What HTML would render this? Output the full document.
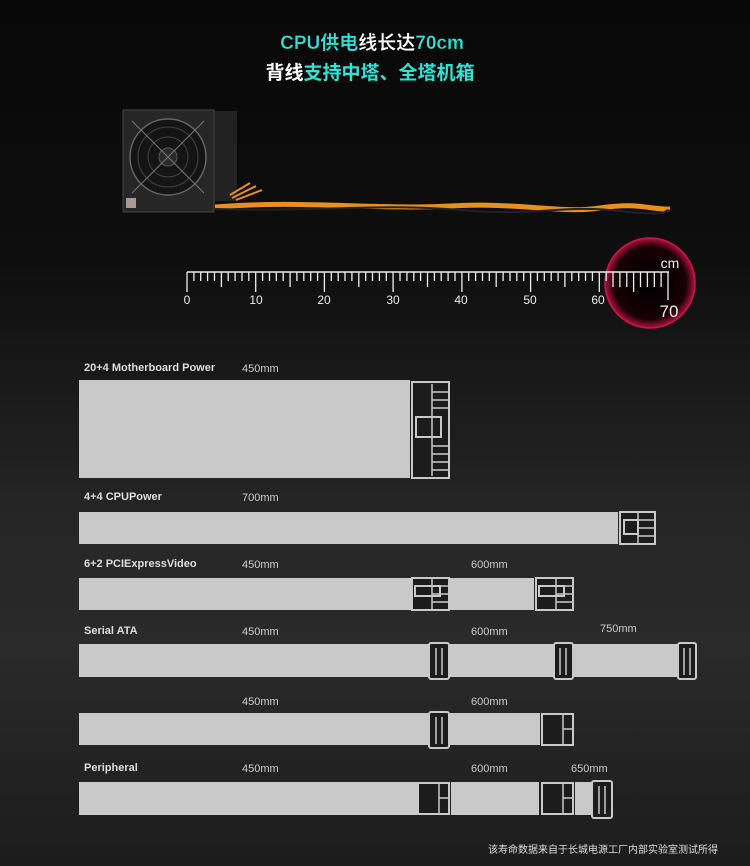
<!DOCTYPE html>
<html><head><meta charset="utf-8"><style>
html,body{margin:0;padding:0;background:#151515;}
#w{width:750px;height:866px;position:relative;overflow:hidden;background:linear-gradient(180deg,#080808 0%,#0e0e0e 30%,#262626 60%,#2a2a2a 75%,#1c1c1c 100%);}
svg{position:absolute;left:0;top:0;}
text{font-family:"Liberation Sans","Noto Sans CJK SC",sans-serif;}
</style></head><body><div id="w">
<svg width="750" height="866" viewBox="0 0 750 866">
<defs>
<radialGradient id="rg" cx="50%" cy="50%" r="50%"><stop offset="0" stop-color="#000"/><stop offset="0.8" stop-color="#160006"/><stop offset="1" stop-color="#b0103a"/></radialGradient>
</defs>
<text x="372" y="49" text-anchor="middle" font-size="19" font-weight="bold" fill="#fff" stroke="currentColor" stroke-width="0.3"><tspan fill="#2fe3d8">CPU供电</tspan>线长达<tspan fill="#2fe3d8">70cm</tspan></text>
<text x="370" y="79" text-anchor="middle" font-size="19" font-weight="bold" fill="#fff">背线<tspan fill="#2fe3d8">支持中塔、全塔机箱</tspan></text>
<rect x="213" y="111" width="24" height="90" fill="#222"/>
<rect x="123" y="110" width="91" height="102" fill="#262626" stroke="#444" stroke-width="1"/>
<circle cx="168" cy="157" r="38" fill="#141414" stroke="#666" stroke-width="1.5"/>
<circle cx="168" cy="157" r="30" fill="none" stroke="#444" stroke-width="1"/>
<circle cx="168" cy="157" r="20" fill="none" stroke="#444" stroke-width="1"/>
<circle cx="168" cy="157" r="9" fill="#2a2a2a" stroke="#555"/>
<line x1="132" y1="121" x2="204" y2="193" stroke="#777" stroke-width="1"/>
<line x1="204" y1="121" x2="132" y2="193" stroke="#777" stroke-width="1"/>
<rect x="126" y="198" width="10" height="10" fill="#a99"/>
<path d="M215 207 C300 200,380 210,450 206 S560 214,600 208 S650 210,670 209" stroke="#e8901a" stroke-width="5" fill="none"/>
<path d="M215 209 C320 212,380 203,460 210 S560 204,620 211 S660 208,670 211" stroke="#222" stroke-width="2" fill="none"/>
<path d="M230 195 L250 183 M232 198 L256 186 M236 200 L262 190" stroke="#e8901a" stroke-width="2"/>
<circle cx="650" cy="283" r="45" fill="url(#rg)" stroke="#c8164a" stroke-width="1.5"/>
<g id="ruler" stroke="#eee" stroke-width="1.3"></g>
<line x1="187" y1="272" x2="669" y2="272" stroke="#eee" stroke-width="1.5"/>
<g font-size="12" fill="#eee" text-anchor="middle">
<text x="187" y="304">0</text><text x="256" y="304">10</text><text x="324" y="304">20</text><text x="393" y="304">30</text><text x="461" y="304">40</text><text x="530" y="304">50</text><text x="598" y="304">60</text>
<text x="670" y="268" font-size="14">cm</text><text x="669" y="317" font-size="17">70</text>
</g>
<g font-size="11" font-weight="bold" fill="#ddd">
<text x="84" y="371">20+4 Motherboard Power</text>
<text x="84" y="500">4+4 CPUPower</text>
<text x="84" y="567">6+2 PCIExpressVideo</text>
<text x="84" y="634">Serial ATA</text>
<text x="84" y="771">Peripheral</text>
</g>
<g font-size="11" fill="#ccc">
<text x="242" y="372">450mm</text>
<text x="242" y="501">700mm</text>
<text x="242" y="568">450mm</text><text x="471" y="568">600mm</text>
<text x="242" y="635">450mm</text><text x="471" y="635">600mm</text><text x="600" y="632">750mm</text>
<text x="242" y="705">450mm</text><text x="471" y="705">600mm</text>
<text x="242" y="772">450mm</text><text x="471" y="772">600mm</text><text x="571" y="772">650mm</text>
</g>
<g fill="#c9c9c9">
<rect x="79" y="380" width="331" height="98"/>
<rect x="79" y="512" width="539" height="32"/>
<rect x="79" y="578" width="332" height="32"/><rect x="450" y="578" width="84" height="32"/>
<rect x="79" y="644" width="349" height="33"/><rect x="450" y="644" width="103" height="33"/><rect x="574" y="644" width="103" height="33"/>
<rect x="79" y="713" width="349" height="32"/><rect x="450" y="713" width="90" height="32"/>
<rect x="79" y="782" width="338" height="33"/><rect x="451" y="782" width="88" height="33"/><rect x="575" y="782" width="17" height="33"/>
</g>
<g fill="#1c1c1c" stroke="#c9c9c9" stroke-width="2">
<rect x="412" y="382" width="37" height="96"/>
<rect x="416" y="417" width="25" height="20"/>
<rect x="620" y="512" width="35" height="32"/><rect x="624" y="520" width="14" height="14"/>
<rect x="412" y="578" width="37" height="32"/><rect x="415" y="586" width="25" height="10"/>
<rect x="536" y="578" width="37" height="32"/><rect x="539" y="586" width="25" height="10"/>
<rect x="429" y="643" width="20" height="36" rx="2"/><rect x="554" y="643" width="19" height="36" rx="2"/><rect x="678" y="643" width="18" height="36" rx="2"/>
<rect x="429" y="712" width="20" height="36" rx="2"/>
<rect x="592" y="781" width="20" height="37" rx="2"/>
<rect x="542" y="714" width="31" height="31"/><rect x="418" y="783" width="31" height="31"/><rect x="542" y="783" width="31" height="31"/>
</g>
<g stroke="#c9c9c9" stroke-width="1.5">
<line x1="432" y1="384" x2="432" y2="476"/>
<line x1="436" y1="648" x2="436" y2="675"/><line x1="442" y1="648" x2="442" y2="675"/>
<line x1="560" y1="648" x2="560" y2="675"/><line x1="566" y1="648" x2="566" y2="675"/>
<line x1="684" y1="648" x2="684" y2="675"/><line x1="690" y1="648" x2="690" y2="675"/>
<line x1="436" y1="717" x2="436" y2="744"/><line x1="442" y1="717" x2="442" y2="744"/>
<line x1="599" y1="786" x2="599" y2="814"/><line x1="605" y1="786" x2="605" y2="814"/>
<line x1="563" y1="714" x2="563" y2="745"/><line x1="439" y1="783" x2="439" y2="814"/><line x1="563" y1="783" x2="563" y2="814"/>
<line x1="563" y1="729" x2="573" y2="729"/><line x1="439" y1="798" x2="449" y2="798"/><line x1="563" y1="798" x2="573" y2="798"/>
<line x1="638" y1="512" x2="638" y2="544"/><line x1="432" y1="578" x2="432" y2="610"/><line x1="556" y1="578" x2="556" y2="610"/>
<line x1="432" y1="392" x2="449" y2="392"/><line x1="432" y1="400" x2="449" y2="400"/><line x1="432" y1="408" x2="449" y2="408"/>
<line x1="432" y1="446" x2="449" y2="446"/><line x1="432" y1="454" x2="449" y2="454"/><line x1="432" y1="462" x2="449" y2="462"/><line x1="432" y1="470" x2="449" y2="470"/>
<line x1="638" y1="520" x2="655" y2="520"/><line x1="638" y1="528" x2="655" y2="528"/><line x1="638" y1="536" x2="655" y2="536"/>
<line x1="432" y1="586" x2="449" y2="586"/><line x1="432" y1="594" x2="449" y2="594"/><line x1="432" y1="602" x2="449" y2="602"/>
<line x1="556" y1="586" x2="573" y2="586"/><line x1="556" y1="594" x2="573" y2="594"/><line x1="556" y1="602" x2="573" y2="602"/>
</g>
<text x="718" y="853" text-anchor="end" font-size="10" fill="#ddd">该寿命数据来自于长城电源工厂内部实验室测试所得</text>
</svg>
<script>
var g=document.getElementById('ruler'),s='';
for(var i=0;i<=70;i++){var x=187+i*481/70;var l=(i%10==0)?20:(i%5==0?15:9);if(i>=62&&i%10)l=(i%5==0?20:15);if(i==70)l=28;s+='<line x1="'+x.toFixed(1)+'" y1="272" x2="'+x.toFixed(1)+'" y2="'+(272+l)+'"/>';}
g.innerHTML=s;
</script>
</div></body></html>
